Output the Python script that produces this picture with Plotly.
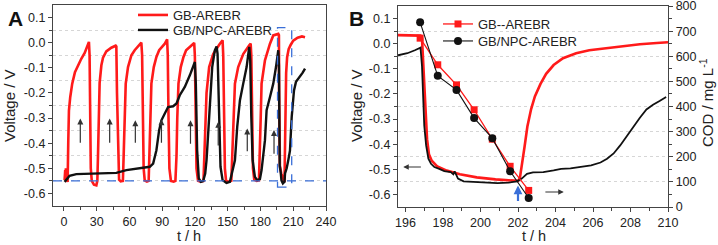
import plotly.graph_objects as go

# ---------------- data ----------------
# Panel A: voltage vs time (whole run)
t_a_red = [0.6, 1.2, 1.5, 1.8, 2.4, 3.4, 4.0, 4.6, 5.8, 7.6, 10.1, 12.8, 15.9, 19.0, 21.1, 22.3, 22.9, 23.5, 24.0, 24.6, 25.5, 27.5, 29.7, 30.6,
           31.2, 31.8, 32.7, 34.3, 35.8, 38.8, 43.4, 47.4, 48.0, 48.6, 49.5, 50.5, 52.0, 54.0,
           54.7, 55.5, 56.6, 58.7, 61.8, 64.8, 69.4, 70.9, 71.6, 72.2, 73.0, 74.0, 76.0, 77.6,
           78.3, 79.0, 80.1, 82.3, 84.7, 87.2, 92.4, 94.5, 95.1, 95.8, 96.6, 98.0, 100.5, 102.1,
           103.1, 103.8, 104.9, 107.0, 109.5, 111.9, 116.8, 119.3, 119.9, 120.6, 121.4, 122.8, 125.0, 127.8,
           128.7, 129.4, 130.6, 133.0, 136.7, 142.8, 145.3, 145.9, 146.6, 147.4, 148.5, 151.0, 153.3,
           154.1, 154.9, 156.6, 159.6, 164.2, 169.7, 171.0, 171.6, 172.3, 173.1, 174.3, 176.5, 178.6,
           179.5, 180.2, 181.0, 184.1, 188.7, 191.7, 196.3, 196.9, 197.1, 197.3, 197.8, 199.0, 200.8, 202.0,
           202.2, 202.5, 202.9, 203.5, 204.4, 205.8, 207.6, 210.0, 214.0, 218.0, 220.8]
v_a_red = [-0.547, -0.507, -0.540, -0.500, -0.540, -0.554, -0.390, -0.270, -0.216, -0.163, -0.117, -0.090, -0.064, -0.041, -0.017, -0.001, 0.003, -0.050, -0.300, -0.500, -0.550, -0.565, -0.568, -0.550,
           -0.450, -0.300, -0.160, -0.090, -0.060, -0.035, -0.020, -0.012, -0.015, -0.200, -0.450, -0.545, -0.552, -0.550,
           -0.450, -0.300, -0.163, -0.097, -0.050, -0.030, -0.004, 0.000, -0.050, -0.300, -0.500, -0.548, -0.553, -0.550,
           -0.450, -0.300, -0.163, -0.097, -0.057, -0.030, -0.004, 0.013, -0.050, -0.300, -0.500, -0.550, -0.553, -0.550,
           -0.450, -0.300, -0.163, -0.097, -0.057, -0.030, -0.010, -0.001, -0.050, -0.300, -0.500, -0.550, -0.553, -0.550,
           -0.450, -0.300, -0.200, -0.097, -0.045, -0.004, 0.009, -0.050, -0.300, -0.500, -0.550, -0.553, -0.550,
           -0.450, -0.300, -0.163, -0.097, -0.045, -0.010, -0.004, -0.050, -0.300, -0.500, -0.545, -0.550, -0.548,
           -0.450, -0.300, -0.163, -0.070, -0.004, 0.029, 0.035, 0.030, -0.200, -0.420, -0.490, -0.520, -0.540, -0.555,
           -0.490, -0.330, -0.210, -0.120, -0.058, -0.026, -0.009, 0.008, 0.020, 0.025, 0.022]

t_a_black = [0.6, 2.1, 5.2, 11.3, 32.7, 48.0, 57.2, 69.4, 78.6, 81.7, 84.7, 87.2, 89.3, 92.4, 95.4, 100.0, 103.1, 106.1, 110.7, 115.3, 118.3, 119.9,
             120.8, 122.0, 123.5, 125.4, 127.5, 129.4, 130.6, 132.1, 133.6, 135.8, 138.2, 139.8,
             140.7, 141.9, 143.4, 145.3, 148.9, 152.0, 153.5, 156.6, 158.7, 161.2, 164.2, 167.3, 169.7,
             170.6, 171.6, 172.8, 174.9, 177.1, 179.5, 181.0, 184.1, 185.6, 188.7, 191.7, 194.2, 196.3,
             196.9, 197.0, 197.2, 197.6, 198.5, 199.2, 200.5, 202.0, 202.5, 204.0, 205.5, 207.0, 208.6, 210.7, 212.5, 216.2, 218.5, 220.8]
v_a_black = [-0.554, -0.547, -0.530, -0.523, -0.521, -0.518, -0.507, -0.498, -0.494, -0.481, -0.428, -0.348, -0.309, -0.282, -0.256, -0.253, -0.242, -0.209, -0.176, -0.130, -0.090, -0.077,
             -0.163, -0.428, -0.540, -0.554, -0.551, -0.521, -0.468, -0.362, -0.229, -0.097, -0.030, -0.015,
             -0.044, -0.295, -0.494, -0.547, -0.558, -0.554, -0.521, -0.468, -0.335, -0.229, -0.163, -0.097, -0.017,
             -0.070, -0.295, -0.468, -0.534, -0.547, -0.543, -0.507, -0.388, -0.269, -0.216, -0.163, -0.097, -0.030,
             -0.090, -0.330, -0.460, -0.490, -0.515, -0.548, -0.560, -0.553, -0.520, -0.500, -0.467, -0.430, -0.295, -0.190, -0.156, -0.136, -0.120, -0.103]

# Panel B: zoom 196-210 h
t_b_red = [195.6, 196.0, 196.5, 196.8, 196.88, 196.95, 197.05, 197.15, 197.25, 197.4, 197.7, 198.2, 198.9, 199.8, 200.8, 201.5, 202.0, 202.1,
           202.2, 202.35, 202.5, 202.7, 202.9, 203.2, 203.5, 203.9, 204.4, 205.1, 205.8, 206.7, 207.6, 208.5, 209.4, 210.0]
v_b_red = [0.034, 0.034, 0.034, 0.032, 0.020, -0.080, -0.250, -0.380, -0.440, -0.466, -0.489, -0.505, -0.520, -0.532, -0.540, -0.545, -0.546, -0.535,
           -0.490, -0.410, -0.330, -0.260, -0.210, -0.160, -0.120, -0.085, -0.058, -0.038, -0.026, -0.017, -0.009, -0.002, 0.003, 0.006]

t_b_black = [195.6, 196.1, 196.5, 196.8, 196.88, 196.95, 197.0, 197.1, 197.22, 197.36, 197.54, 197.8, 198.07, 198.42, 198.55, 198.62, 198.8, 199.1,
             199.65, 200.3, 200.9, 201.5, 201.95, 202.2, 202.48, 202.8, 203.35, 203.9, 204.3, 204.8, 205.3, 205.9, 206.4, 206.75, 207.1,
             207.45, 207.8, 208.15, 208.5, 208.85, 209.2, 209.55, 209.9]
v_b_black = [-0.046, -0.038, -0.026, -0.016, -0.090, -0.220, -0.325, -0.405, -0.458, -0.478, -0.491, -0.498, -0.507, -0.511, -0.520, -0.508, -0.537, -0.548,
             -0.551, -0.553, -0.555, -0.553, -0.548, -0.537, -0.518, -0.512, -0.511, -0.504, -0.498, -0.496, -0.491, -0.484, -0.473, -0.458, -0.437,
             -0.405, -0.368, -0.330, -0.295, -0.262, -0.243, -0.228, -0.212]

t_cod = [196.78, 197.72, 198.72, 199.66, 200.63, 201.58, 202.57]
cod_red = [672, 566, 486, 387, 270, 162, 66]
cod_black = [735, 522, 466, 354, 274, 142, 36]

# annotation arrows (t, head V, tail V) in panel A
arrows_a = [(15.0, -0.302, -0.404), (41.9, -0.302, -0.404), (65.4, -0.309, -0.404), (89.3, -0.305, -0.404),
            (115.9, -0.309, -0.408), (141.3, -0.315, -0.415), (167.9, -0.342, -0.438), (192.4, -0.348, -0.448)]

RED = "#ff1a1a"
BLACK = "#111111"
BLUE = "#3a6fd8"
AX = "#444444"
FONT = "Arial, Liberation Sans, sans-serif"
W, H = 718, 245

def px_x(p):
    return p / W

def px_y(p):
    return 1 - p / H

fig = go.Figure()
fig.add_trace(go.Scatter(x=t_a_red, y=v_a_red, mode="lines", name="GB-AREBR",
                         line=dict(color=RED, width=2.6), xaxis="x", yaxis="y", legend="legend"))
fig.add_trace(go.Scatter(x=t_a_black, y=v_a_black, mode="lines", name="GB/NPC-AREBR",
                         line=dict(color=BLACK, width=2.4), xaxis="x", yaxis="y", legend="legend2"))
fig.add_trace(go.Scatter(x=t_b_red, y=v_b_red, mode="lines", showlegend=False,
                         line=dict(color=RED, width=2.6), xaxis="x2", yaxis="y2"))
fig.add_trace(go.Scatter(x=t_b_black, y=v_b_black, mode="lines", showlegend=False,
                         line=dict(color=BLACK, width=1.8), xaxis="x2", yaxis="y2"))
fig.add_trace(go.Scatter(x=t_cod, y=cod_red, mode="lines+markers", name="GB--AREBR",
                         line=dict(color=RED, width=1.3), marker=dict(symbol="square", size=7, color=RED),
                         xaxis="x2", yaxis="y3", legend="legend3"))
fig.add_trace(go.Scatter(x=t_cod, y=cod_black, mode="lines+markers", name="GB/NPC-AREBR",
                         line=dict(color=BLACK, width=1.1), marker=dict(symbol="circle", size=8, color=BLACK),
                         xaxis="x2", yaxis="y3", legend="legend4"))

vt = [0.1, 0.0, -0.1, -0.2, -0.3, -0.4, -0.5, -0.6]
vtext = ["0.1", "0.0", "-0.1", "-0.2", "-0.3", "-0.4", "-0.5", "-0.6"]
vminor = [0.05, -0.05, -0.15, -0.25, -0.35, -0.45, -0.55]
tickfont = dict(family=FONT, size=12.5, color="#222")

common = dict(showline=True, linecolor=AX, linewidth=1.3, mirror=True, showgrid=False, zeroline=False,
              ticks="outside", tickcolor=AX, tickwidth=1.2, ticklen=4, tickfont=tickfont,
              ticklabeloverflow="allow")

yv = dict(range=[-0.65, 0.15], tickmode="array", tickvals=vt, ticktext=vtext,
          minor=dict(tickmode="array", tickvals=vminor, ticks="outside", ticklen=2.5, tickcolor=AX,
                     showgrid=True, gridcolor="#d6d6d6", griddash="dot", gridwidth=1), **common)

legfont = dict(family=FONT, size=13, color="#222")

def leg(xp, yp):
    return dict(x=px_x(xp), y=px_y(yp), xanchor="left", yanchor="middle", bgcolor="rgba(0,0,0,0)",
                font=legfont, tracegroupgap=0)

fig.update_layout(
    width=W, height=H, autosize=False, margin=dict(l=0, r=0, t=0, b=0, autoexpand=False),
    paper_bgcolor="white", plot_bgcolor="white",
    font=dict(family=FONT, color="#222"),
    xaxis=dict(domain=[px_x(53), px_x(326)], anchor="y", range=[-10, 240], tick0=0, dtick=30,
               minor=dict(dtick=15, ticks="outside", ticklen=2.5, tickcolor=AX), **common),
    yaxis=dict(domain=[px_y(206), px_y(5)], anchor="x", **yv),
    xaxis2=dict(domain=[px_x(398), px_x(668)], anchor="y2", range=[195.6, 210], tick0=196, dtick=2,
                minor=dict(dtick=1, ticks="outside", ticklen=2.5, tickcolor=AX), **common),
    yaxis2=dict(domain=[px_y(207), px_y(6)], anchor="x2", **yv),
    yaxis3=dict(overlaying="y2", side="right", anchor="x2", range=[0, 800], tickmode="linear", tick0=0, dtick=100,
                minor=dict(dtick=50, ticks="outside", ticklen=2.5, tickcolor=AX),
                showline=True, linecolor=AX, linewidth=1.3, showgrid=False, zeroline=False,
                ticks="outside", tickcolor=AX, tickwidth=1.2, ticklen=4, tickfont=tickfont,
                ticklabeloverflow="allow"),
    legend=leg(133, 15),
    legend2=leg(133, 30),
    legend3=leg(438, 24),
    legend4=leg(438, 41),
)

# blue dashed reference line and box in panel A
fig.add_shape(type="line", xref="x domain", yref="y", x0=0, x1=1, y0=-0.55, y1=-0.55,
              line=dict(color=BLUE, width=1.3, dash="dash"))
fig.add_shape(type="rect", xref="x", yref="y", x0=195.6, x1=208.6, y0=-0.575, y1=0.06,
              line=dict(color=BLUE, width=1.3, dash="dash"))

ann = []
for (t, vh, vtl) in arrows_a:
    ann.append(dict(x=t, y=vh, ax=t, ay=vtl, xref="x", yref="y", axref="x", ayref="y", text="",
                    showarrow=True, arrowhead=2, arrowsize=1, arrowwidth=1.2, arrowcolor="#333"))
# panel B arrows
ann.append(dict(x=195.88, y=-0.491, ax=196.9, ay=-0.491, xref="x2", yref="y2", axref="x2", ayref="y2", text="",
                showarrow=True, arrowhead=2, arrowsize=1, arrowwidth=1.1, arrowcolor="#333"))
ann.append(dict(x=204.44, y=-0.59, ax=203.38, ay=-0.59, xref="x2", yref="y2", axref="x2", ayref="y2", text="",
                showarrow=True, arrowhead=2, arrowsize=1, arrowwidth=1.1, arrowcolor="#333"))
ann.append(dict(x=202.0, y=-0.564, ax=202.0, ay=-0.632, xref="x2", yref="y2", axref="x2", ayref="y2", text="",
                showarrow=True, arrowhead=2, arrowsize=0.8, arrowwidth=2.2, arrowcolor=BLUE))

title_font = dict(family=FONT, size=15, color="#222")
xtitle_font = dict(family=FONT, size=14.5, color="#222")

def label(text, xp, yp, angle=0, font=title_font, xa="center", ya="middle"):
    return dict(text=text, x=px_x(xp), y=px_y(yp), xref="paper", yref="paper", xanchor=xa, yanchor=ya,
                textangle=angle, showarrow=False, font=font)

ann += [
    label("<b>A</b>", 6, 5, font=dict(family=FONT, size=21, color="#111"), xa="left", ya="top"),
    label("<b>B</b>", 347, 5, font=dict(family=FONT, size=21, color="#111"), xa="left", ya="top"),
    label("Voltage / V", 9, 106, angle=-90),
    label("Voltage / V", 356, 106, angle=-90),
    label("COD / mg L<sup>-1</sup>", 707, 103, angle=-90),
    label("t / h", 189, 236, font=xtitle_font),
    label("t / h", 534, 236, font=xtitle_font),
]
fig.update_layout(annotations=ann)

fig.write_html("out.html", config={"displayModeBar": False},
               post_script="document.body.style.margin='0';document.body.style.padding='0';")
